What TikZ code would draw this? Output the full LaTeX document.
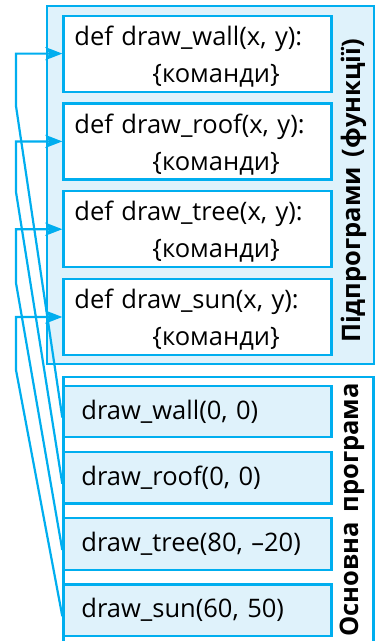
\documentclass[tikz,border=0pt]{standalone}
\usepackage{fontspec}
\setmainfont{Open Sans}[WordSpace=1.5]
\usepackage{tikz}
\usetikzlibrary{positioning,arrows.meta}
\usepackage{xcolor}
\definecolor{skyline}{HTML}{00AEEF}
\definecolor{paleblue}{HTML}{DFF2FB}

\begin{document}
\begin{tikzpicture}[
    x=1pt, y=-1pt,
    font=\fontsize{25.5}{37}\selectfont,
    panel/.style={
      draw=skyline,
      line width=2.2pt,
      anchor=north west,
      inner sep=0pt
    },
    defbox/.style={
      draw=skyline,
      line width=2.2pt,
      fill=white,
      anchor=north west,
      align=left,
      minimum height=76pt,
      text width=246pt,
      inner xsep=11pt
    },
    callbox/.style={
      draw=skyline,
      line width=2.2pt,
      fill=paleblue,
      anchor=north west,
      align=left,
      minimum height=51.5pt,
      text width=232pt,
      inner xsep=18pt
    },
    caption/.style={rotate=90, font=\fontsize{25.5}{28}\selectfont\bfseries},
    link/.style={
      draw=skyline,
      line width=2.2pt,
      -{Stealth[length=17pt, width=13pt, inset=4pt]}
    }
  ]

    \useasboundingbox (0,0) rectangle (376,641);

    % Panels
    \node[panel, fill=paleblue, minimum width=327.3pt, minimum height=357.7pt]
      (subs) at (45.7,5) {};
    \node[panel, fill=white, minimum width=310pt, minimum height=300pt]
      (main) at (62.3,376) {};

    \node[caption] (subscap) at (354,191) {Підпрограми (функції)};
    \node[caption] (maincap) at (352,510) {Основна програма};

    % Subroutines
    \node[defbox] (dwall) at (62.3,14.5)
      {\rule{0pt}{25pt}def draw\_wall(x, y):\\\hspace*{78pt}\{команди\}};
    \node[defbox] (droof) at (62.3,102.3)
      {\rule{0pt}{25pt}def draw\_roof(x, y):\\\hspace*{78pt}\{команди\}};
    \node[defbox] (dtree) at (62.3,190.1)
      {\rule{0pt}{25pt}def draw\_tree(x, y):\\\hspace*{78pt}\{команди\}};
    \node[defbox] (dsun) at (62.3,277.9)
      {\rule{0pt}{25pt}def draw\_sun(x, y):\\\hspace*{78pt}\{команди\}};

    % Calls
    \node[callbox] (cwall) at (62.3,384.7) {draw\_wall(0, 0)};
    \node[callbox] (croof) at (62.3,450.9) {draw\_roof(0, 0)};
    \node[callbox] (ctree) at (62.3,517.1) {draw\_tree(80, –20)};
    \node[callbox] (csun) at (62.3,583.3) {draw\_sun(60, 50)};

    % Bends
    \coordinate (bwall) at (16,106);
    \coordinate (broof) at (16,192);
    \coordinate (btree) at (16,283);
    \coordinate (bsun) at (16,370);

    % Links
    \draw[link] ([yshift=-6pt]cwall.west) -- (bwall) |- (dwall.west);
    \draw[link] ([yshift=-6pt]croof.west) -- (broof) |- (droof.west);
    \draw[link] ([yshift=-6pt]ctree.west) -- (btree) |- (dtree.west);
    \draw[link] ([yshift=-6pt]csun.west) -- (bsun) |- (dsun.west);

  \end{tikzpicture}
\end{document}
